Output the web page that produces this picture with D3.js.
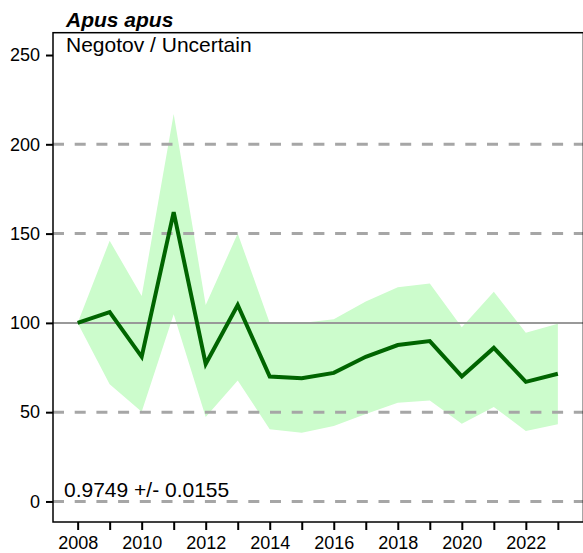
<!DOCTYPE html>
<html><head><meta charset="utf-8">
<script src="https://cdn.jsdelivr.net/npm/d3@7"></script>
<style>
html,body{margin:0;padding:0;background:#fff;}
svg{display:block;font-family:"Liberation Sans",Arial,sans-serif;}
</style></head>
<body>
<svg id="chart" width="583" height="553"></svg>
<script>
const years = [2008,2009,2010,2011,2012,2013,2014,2015,2016,2017,2018,2019,2020,2021,2022,2023];
const index = [100,106,81,162,77,110,70,69,72,81,87.6,89.8,70,86,67,71.5];
const upper = [100,146,115,217,110,150,100,100,102,112,120,122,97.6,117.4,94.5,99.5];
const lower = [100,65.6,50.3,104.8,47.3,67.8,40.4,38.5,42.2,49,55.3,56.6,43.5,52.9,39.5,43.2];
const yTicks = [0,50,100,150,200,250];
const dashedLines = [0,50,150,200];
const solidLines = [100];
const title = "Apus apus";
const subtitle = "Negotov / Uncertain";
const trendText = "0.9749 +/- 0.0155";

const svg = d3.select("#chart");
const L = 53, R = 582.5, T = 32.7, B = 522;
const x = d3.scaleLinear().domain([2008 - 0.77, 2023 + 0.77]).range([L, R]);
const y = d3.scaleLinear().domain([-11.5, 262.5]).range([B, T]);

// band
const area = d3.area().x((d,i)=>x(years[i])).y0((d,i)=>y(lower[i])).y1((d,i)=>y(upper[i]));
svg.append("path").datum(years).attr("d", area).attr("fill", "#ccfccc");

// grid lines
svg.selectAll("line.dash").data(dashedLines).join("line")
  .attr("x1", L).attr("x2", 583).attr("y1", d=>y(d)).attr("y2", d=>y(d))
  .attr("stroke", "#a6a6a6").attr("stroke-width", 3).attr("stroke-dasharray", "11,10.7");
svg.selectAll("line.solid").data(solidLines).join("line")
  .attr("x1", L).attr("x2", 583).attr("y1", d=>y(d)).attr("y2", d=>y(d))
  .attr("stroke", "#999").attr("stroke-width", 2);

// main line
const line = d3.line().x((d,i)=>x(years[i])).y(d=>y(d));
svg.append("path").datum(index).attr("d", line).attr("fill","none")
  .attr("stroke", "#006400").attr("stroke-width", 4).attr("stroke-linejoin","miter");

// frame (right edge falls mostly outside the picture)
svg.append("rect").attr("x", L).attr("y", T).attr("width", 583.4 - L).attr("height", B - T)
  .attr("fill","none").attr("stroke","#000").attr("stroke-width",1.5);

// axes
const yAxis = d3.axisLeft(y).tickValues(yTicks).tickSize(7).tickPadding(6);
const gy = svg.append("g").attr("transform", `translate(${L},0)`).call(yAxis);
gy.select(".domain").remove();
gy.selectAll(".tick line").attr("stroke","#000").attr("stroke-width",2);
gy.selectAll("text").attr("font-size", 18).attr("fill","#000").attr("font-family","Liberation Sans, Arial, sans-serif");

const xAxis = d3.axisBottom(x).tickValues(years).tickSize(8).tickPadding(6)
  .tickFormat(d => d % 2 === 0 ? String(d) : "");
const gx = svg.append("g").attr("transform", `translate(0,${B})`).call(xAxis);
gx.select(".domain").remove();
gx.selectAll(".tick line").attr("stroke","#000").attr("stroke-width",2);
gx.selectAll("text").attr("font-size", 18).attr("fill","#000").attr("font-family","Liberation Sans, Arial, sans-serif");

// texts
svg.append("text").attr("x", 66).attr("y", 27).text(title)
  .attr("font-size", 21).attr("font-weight","bold").attr("font-style","italic");
svg.append("text").attr("x", 66).attr("y", 52).text(subtitle).attr("font-size", 21);
svg.append("text").attr("x", 64).attr("y", 497).text(trendText).attr("font-size", 21);
</script>
</body></html>
